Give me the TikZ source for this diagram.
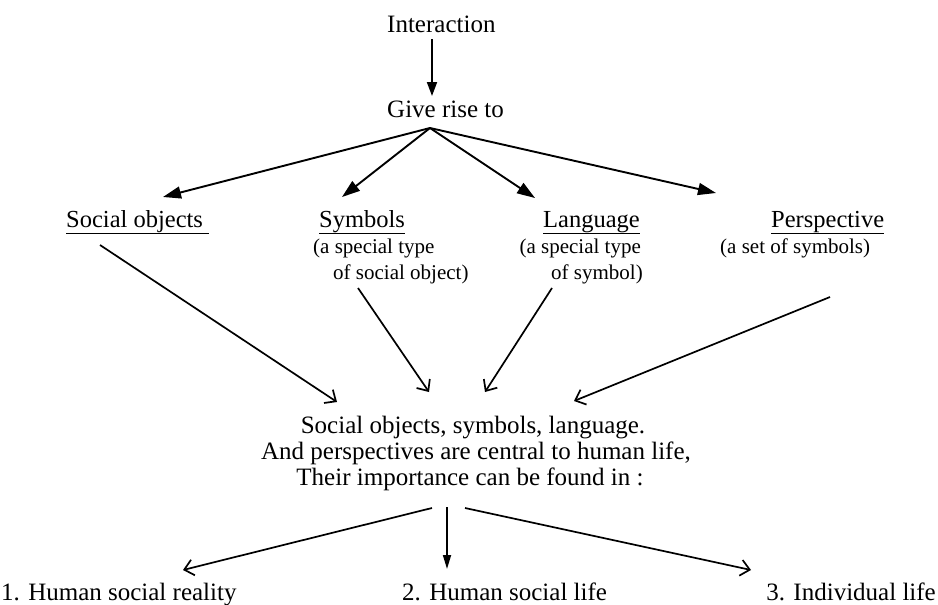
\documentclass[tikz,border=0pt]{standalone}
\usepackage{fontspec}
\setmainfont{Liberation Serif}
\usetikzlibrary{arrows.meta}
\tikzset{
  lbl/.style={inner sep=0pt, font=\fontsize{25}{30}\selectfont},
  head/.style={inner sep=0pt, font=\fontsize{24.5}{29}\selectfont},
  sub/.style={inner sep=0pt, font=\fontsize{21}{25}\selectfont},
  fan/.style={line width=1.9pt, -{Triangle[length=18pt,width=12pt]}},
  barb/.style={line width=1.7pt, -{Straight Barb[length=9pt,width=16pt]}},
}
\begin{document}
\begin{tikzpicture}[x=1pt,y=-1pt]
                \useasboundingbox (0,0) rectangle (938,605);
                % top
                \node[lbl,anchor=base west] (inter) at (387,32) {Interaction};
                \node[lbl,anchor=base west] (give) at (387,117) {Give rise to};
                \coordinate (interS) at (432,39);
                \coordinate (giveN) at (432,96);
                \coordinate (fan) at (430,128);
                \draw[line width=1.9pt,-{Triangle[length=14pt,width=10pt]}] (interS) -- (giveN);
                % four kinds
                \node[head,anchor=base west] (soc) at (66,227) {\underline{Social objects\ }};
                \node[head,anchor=base west] (sym) at (319,227) {\underline{Symbols}};
                \node[head,anchor=base west] (lang) at (543,227) {\underline{Language}};
                \node[head,anchor=base west] (persp) at (771,227) {\underline{Perspective}};
                \node[sub,anchor=base west] (symA) at (313,253) {(a special type};
                \node[sub,anchor=base west] (symB) at (333,279) {of social object)};
                \node[sub,anchor=base east] (langA) at (641,253) {(a special type};
                \node[sub,anchor=base east] (langB) at (643,279) {of symbol)};
                \node[sub,anchor=base west] (perspA) at (720,253) {(a set of symbols)};
                \coordinate (socT) at (163,197);
                \coordinate (symT) at (342,197);
                \coordinate (langT) at (535,198);
                \coordinate (perspT) at (716,193);
                \draw[fan] (fan) -- (socT);
                \draw[fan] (fan) -- (symT);
                \draw[fan] (fan) -- (langT);
                \draw[fan] (fan) -- (perspT);
                % centre
                \node[lbl,anchor=base] (midA) at (473,433) {Social objects, symbols, language.};
                \node[lbl,anchor=base] (midB) at (476,459) {And perspectives are central to human life,};
                \node[lbl,anchor=base] (midC) at (470,485) {Their importance can be found in :};
                \coordinate (socS) at (100,245);
                \coordinate (symS) at (358,288);
                \coordinate (langS) at (552,288);
                \coordinate (perspS) at (830,297);
                \draw[barb] (socS) -- (337,402);
                \draw[barb] (symS) -- (429,392);
                \draw[barb] (langS) -- (485,392);
                \draw[barb] (perspS) -- (574,401);
                % bottom
                \node[lbl,anchor=base west] (res1) at (1,600) {1. Human social reality};
                \node[lbl,anchor=base west] (res2) at (402,600) {2. Human social life};
                \node[lbl,anchor=base east] (res3) at (936,600) {3. Individual life};
                \coordinate (botL) at (432,508);
                \coordinate (botM) at (447,507);
                \coordinate (botR) at (465,508);
                \draw[barb] (botL) -- (183,570);
                \draw[line width=1.7pt,-{Triangle[length=14pt,width=8pt]}] (botM) -- (447,569);
                \draw[barb] (botR) -- (751,570);
            \end{tikzpicture}
\end{document}
